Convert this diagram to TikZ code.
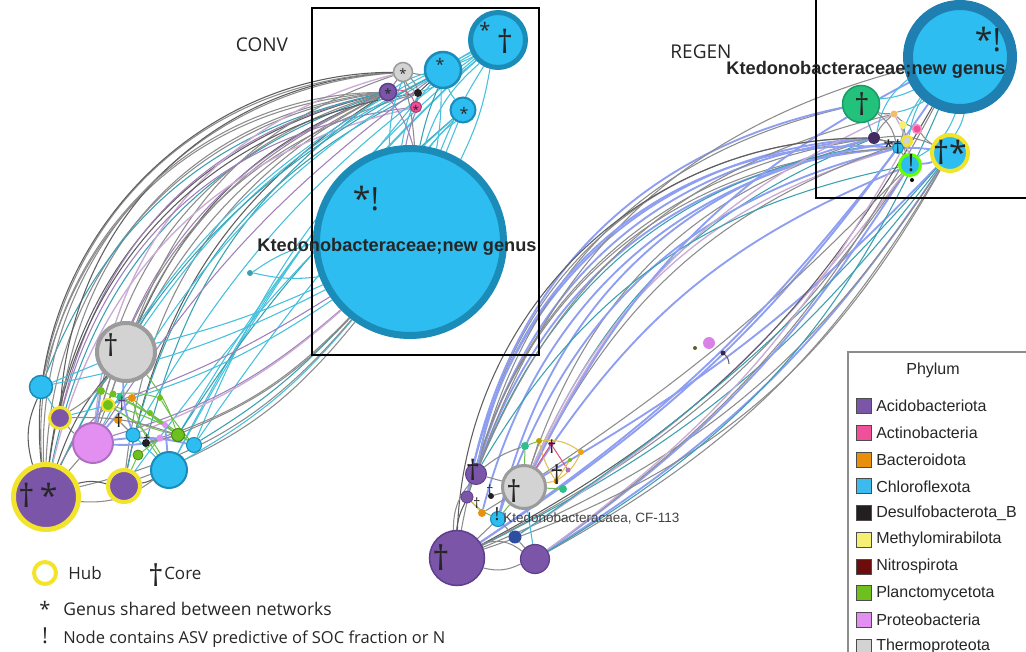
\documentclass[tikz,border=0pt]{standalone}
\usepackage{fontspec}
\setmainfont{Open Sans}
\newfontfamily\arialf{Liberation Sans}
\usetikzlibrary{backgrounds}
\newcommand\fsz[1]{\fontsize{\fpeval{#1*0.75}}{\fpeval{#1*0.9}}\selectfont}
\definecolor{acid}{HTML}{7B55A8}
\definecolor{acidD}{HTML}{5E3F8C}
\definecolor{actino}{HTML}{F04F9A}
\definecolor{bact}{HTML}{E8900C}
\definecolor{chloro}{HTML}{2DBDF0}
\definecolor{chloroL}{HTML}{3DBBEE}
\definecolor{chloroD}{HTML}{1B8CB8}
\definecolor{chloroDD}{HTML}{1E7FB0}
\definecolor{desulf}{HTML}{231F20}
\definecolor{methyl}{HTML}{F7EE74}
\definecolor{nitro}{HTML}{6C0D0C}
\definecolor{plancto}{HTML}{6DC01D}
\definecolor{proteo}{HTML}{E38FF2}
\definecolor{proteoD}{HTML}{B070C0}
\definecolor{thermo}{HTML}{D3D3D3}
\definecolor{thermoD}{HTML}{9B9B9B}
\definecolor{hubY}{HTML}{F2E42A}
\definecolor{emer}{HTML}{22C27C}
\definecolor{tealg}{HTML}{2FC08A}
\definecolor{dblue}{HTML}{2E4FA0}
\definecolor{cEg}{HTML}{8C8C8C}
\definecolor{cEdg}{HTML}{5E5E5E}
\definecolor{cEte}{HTML}{3AA0B0}
\definecolor{cEcy}{HTML}{46C0DC}
\definecolor{cEpu}{HTML}{A080B8}
\definecolor{cEla}{HTML}{C9ACD4}
\definecolor{cEpe}{HTML}{8E9EF0}
\definecolor{cEgr}{HTML}{6CC04A}
\definecolor{cEy}{HTML}{E0C050}
\definecolor{cEpk}{HTML}{E0507A}
\tikzset{
  nd/.style={circle, inner sep=0pt, minimum size=#1*0.75pt},
  bw/.style={line width=#1*0.75pt},
  hub/.style={draw=hubY, line width=#1*0.75pt},
  mk/.style={inner sep=0pt, font=\fsz{#1}, text=black!85},
  eg/.style={draw=cEg, line width=0.8pt},
  edg/.style={draw=cEdg, line width=0.8pt},
  ete/.style={draw=cEte, line width=0.8pt},
  ecy/.style={draw=cEcy, line width=0.8pt},
  epu/.style={draw=cEpu, line width=0.8pt},
  ela/.style={draw=cEla, line width=1pt},
  epe/.style={draw=cEpe, line width=1.4pt},
  egr/.style={draw=cEgr, line width=0.75pt},
  ey/.style={draw=cEy, line width=0.8pt},
  epk/.style={draw=cEpk, line width=0.75pt},
  sq/.style={inner sep=0pt, minimum size=15*0.75pt, draw=black!70, line width=0.5pt},
  boxline/.style={draw=black, line width=0.9pt},
}
\begin{document}
\begin{tikzpicture}[x=0.75pt,y=-0.75pt]
\useasboundingbox (0,0) rectangle (1026,652);

% boxes
\draw[boxline] (312,8) rectangle (539,355);
\draw[boxline] (816,-5) rectangle (1032,198);

% ---------- CONV nodes
\node[nd=187, fill=chloro, draw=chloroD, bw=7] (cbig) at (410,242) {};
\node[nd=55, fill=chloro, draw=chloroD, bw=5] (ctop) at (498,40) {};
\node[nd=36, fill=chloro, draw=chloroD, bw=2.5] (cmid) at (443,70) {};
\node[nd=25, fill=chloro, draw=chloroD, bw=2] (csm) at (463,110) {};
\node[nd=19, fill=thermo, draw=thermoD, bw=1.5] (cgray) at (403,72) {};
\node[nd=17, fill=acid, draw=acidD, bw=1.5] (cpur) at (388,92) {};
\node[nd=8, fill=desulf] (cdark) at (418,93) {};
\node[nd=11, fill=actino, draw=actino!70!black, bw=1] (cpink) at (416,107) {};
\node[nd=6, fill=cEte] (cdot) at (250,273) {};

% ---------- left cluster
\node[nd=58, fill=thermo, draw=thermoD, bw=4] (lgray) at (126,352) {};
\node[nd=23, fill=chloro, draw=chloroD, bw=1.5] (lblue1) at (41,387) {};
\node[nd=21, fill=acid, hub=3] (lpur2) at (60,418) {};
\node[nd=40, fill=proteo, draw=proteoD, bw=2] (lpink) at (93,443) {};
\node[nd=65, fill=acid, hub=5] (lbig) at (46,497) {};
\node[nd=32, fill=acid, hub=4] (lpur3) at (124,486) {};
\node[nd=36, fill=chloro, draw=chloroD, bw=2] (lblue2) at (169,470) {};
\node[nd=15, fill=chloro, draw=chloroD, bw=1] (lblue3) at (194,445) {};
\node[nd=13, fill=plancto, draw=plancto!70!black, bw=1] (lgreen1) at (178,435) {};
\node[nd=12, fill=plancto, hub=2] (lgreen2) at (108,405) {};
\node[nd=14, fill=chloro, draw=chloroD, bw=1] (lblue4) at (133,435) {};
\node[nd=8, fill=bact] (lorange) at (132,398) {};
\node[nd=8, fill=desulf] (ldark) at (146,443) {};
\node[nd=10, fill=plancto, draw=plancto!70!black, bw=0.8] (lgreen3) at (138,455) {};
\node[nd=8, fill=plancto] (ls1) at (101,391) {};
\node[nd=7, fill=plancto] (ls2) at (113,394) {};
\node[nd=7, fill=tealg] (ls3) at (120,397) {};
\node[nd=6, fill=plancto] (ls4) at (160,398) {};
\node[nd=6, fill=plancto] (ls5) at (150,413) {};
\node[nd=6, fill=proteo] (ls6) at (165,425) {};
\node[nd=8, fill=bact] (ls7) at (118,420) {};
\node[nd=7, fill=proteo] (ls8) at (160,438) {};

% ---------- REGEN nodes
\node[nd=104, fill=chloro, draw=chloroDD, bw=10] (rbig) at (960,57) {};
\node[nd=37, fill=emer, draw=emer!80!black, bw=1.5] (rgreen) at (861,104) {};
\node[nd=12, fill=acidD!70!black] (rdark) at (874,138) {};
\node[nd=7, fill=bact!60!white] (rtan) at (894,114) {};
\node[nd=9, fill=actino, draw=actino!60!white, bw=1.5] (rpink) at (917,129) {};
\node[nd=8, fill=methyl] (ryellow) at (903,125) {};
\node[nd=10, fill=thermo, hub=2.5] (rgrayy) at (907,141) {};
\node[nd=11, fill=chloro, draw=chloroD, bw=1] (rsmall) at (898,148) {};
\node[nd=21, fill=chloro, draw=green!60!yellow, bw=3] (rblueE) at (910,165) {};
\node[nd=4, fill=black] (rdot) at (912,180) {};
\node[nd=36, fill=chloro, hub=4] (rhub) at (950,153) {};

% ---------- bottom middle nodes
\node[nd=43, fill=thermo, draw=thermoD, bw=3] (mgray) at (524,487) {};
\node[nd=21, fill=acid, draw=acidD, bw=1] (mpur1) at (476,474) {};
\node[nd=12, fill=acid, draw=acidD, bw=0.8] (mpur4) at (467,497) {};
\node[nd=6, fill=desulf] (mdark) at (491,496) {};
\node[nd=8, fill=bact] (morange) at (482,513) {};
\node[nd=15, fill=chloro, draw=chloroD, bw=1] (mblue) at (498,519) {};
\node[nd=13, fill=dblue] (mdblue) at (515,537) {};
\node[nd=55, fill=acid, draw=acidD, bw=1.5] (mbig) at (457,558) {};
\node[nd=29, fill=acid, draw=acidD, bw=1.2] (mpur2) at (535,559) {};
\node[nd=8, fill=tealg] (mgreen1) at (525,446) {};
\node[nd=8, fill=tealg] (mgreen2) at (563,489) {};
\node[nd=6, fill=olive!70!yellow] (ms1) at (539,441) {};
\node[nd=5, fill=actino!70!black] (ms2) at (551,444) {};
\node[nd=6, fill=bact!80!yellow] (ms3) at (581,452) {};
\node[nd=4, fill=plancto] (ms4) at (570,460) {};
\node[nd=5, fill=proteo!80!black] (ms5) at (568,470) {};
\node[nd=5, fill=bact] (ms6) at (556,481) {};

% isolated
\node[nd=12, fill=proteo!90!violet] (iso1) at (709,343) {};
\node[nd=4, fill=olive!60!black] (iso2) at (695,348) {};
\node[nd=5, fill=acidD!60!black] (iso3) at (723,353) {};
\coordinate (iso4) at (729,364);

% ---------- edges
\begin{scope}[on background layer]
% CONV long lens
\foreach \a/\b/\c/\w in {
 cpur/lbig/eg/40, cpur/lbig/edg/35, cpur/lbig/ete/30, cpur/lpur2/eg/38, cpur/lpur2/epu/32,
 cpur/lblue1/eg/36, cpur/lblue1/ete/28, cpur/lgray/edg/22, cpur/lgray/eg/17, cpur/lpink/eg/33,
 cpur/lpink/epu/27, cpur/lpur3/eg/28, cpur/lpur3/edg/23, cpur/ldark/ete/20, cpur/lgreen2/eg/25,
 cgray/lbig/eg/44, cgray/lpur2/edg/42, cgray/lgray/eg/25, cgray/lpink/ela/35, cgray/lblue1/eg/38,
 cdark/lbig/edg/37, cdark/lpink/eg/30, cdark/lpur3/ete/26, cpink/lpur2/epu/34, cpink/lbig/ela/32,
 cpur/lbig/eg/47, cgray/lbig/edg/48}
 {\draw[\c] (\a) to[bend right=\w] (\b);}
% CONV top nodes to left cluster (behind big node)
\foreach \a/\b/\c/\w in {
 ctop/lblue2/ecy/10, ctop/lblue3/ecy/14, ctop/lgreen1/ecy/8, ctop/lblue4/ecy/12, cmid/lblue2/ecy/6,
 cmid/lgray/ecy/14, csm/lblue3/ecy/4, csm/lgreen1/ete/8, ctop/lpink/ecy/16, cmid/lpink/epu/10,
 csm/lpur3/ecy/6, ctop/lbig/ecy/20, cmid/lbig/ete/18}
 {\draw[\c] (\a) to[bend right=\w] (\b);}
% CONV local
\foreach \a/\b/\c/\w in {
 cpur/cbig/epu/-10, cgray/cbig/eg/-5, cpink/cbig/epu/5, cdark/cbig/ecy/8, cgray/cbig/ecy/10,
 cgray/cmid/eg/10, cpur/cmid/ecy/-10, cmid/ctop/ecy/5, cmid/ctop/ecy/-5, cmid/csm/ecy/10,
 ctop/cbig/ecy/-8, ctop/cbig/ecy/5, ctop/cbig/ecy/15, csm/cbig/ecy/0, csm/cbig/ecy/10,
 cmid/cbig/ecy/-5, cmid/cbig/ete/5, cpur/cpink/epk/-40, cgray/cdark/eg/20, cgray/cpink/eg/-30,
 cpur/cgray/eg/0, cdark/cmid/edg/0, cdark/ctop/ecy/10, cdot/cbig/ecy/-10, cdot/cbig/ecy/10}
 {\draw[\c] (\a) to[bend right=\w] (\b);}
% left cluster to big CONV node
\foreach \a/\b/\c/\w in {
 lpur3/cbig/eg/15, lblue2/cbig/ecy/10, lgreen1/cbig/eg/12, lblue3/cbig/ete/8, lgray/cbig/ecy/5,
 lblue1/cbig/ecy/8, lpink/cbig/epu/12, lbig/cbig/eg/18, lgreen2/cbig/epu/6, lblue4/cbig/ela/10,
 ldark/cbig/eg/14, lpur2/cbig/ecy/10}
 {\draw[\c] (\a) to[bend right=\w] (\b);}
% left cluster internal
\foreach \a/\b/\c/\w in {
 lgreen2/lgreen1/egr/10, lgreen2/lblue3/egr/-10, lblue4/lgreen1/egr/15, lorange/lblue2/egr/10,
 lpink/lgreen1/epe/10, lbig/lpur3/edg/-15, lbig/lpink/eg/0, lpur2/lpink/eg/10, lbig/lgray/edg/-10,
 lpur2/lgray/eg/10, lblue1/lgray/ecy/0, lblue1/lpur2/ecy/0, lgray/lpink/eg/0, lgray/lblue4/epe/10,
 lgreen2/lblue2/egr/-15, lorange/lgreen1/egr/5, lblue4/lblue2/ecy/0, lpink/lblue3/epe/-10,
 lbig/lblue2/eg/20, lpur3/lblue2/edg/10, lpink/lorange/epe/0, lpur2/lgreen1/eg/-10,
 lbig/lgreen2/eg/-10, lblue1/lbig/edg/20, lgray/lgreen1/egr/-10, ls1/lgreen1/egr/-8,
 ls2/ls4/egr/-10, ls3/lblue3/egr/-5, ls4/lblue3/egr/5, ls5/lgreen1/egr/0, ls6/lblue2/epe/0,
 ls7/lblue4/eg/0, ls8/lgreen3/egr/0, ls1/lpink/epe/0, lgreen3/lpur3/egr/0, ldark/lgreen1/eg/0}
 {\draw[\c] (\a) to[bend right=\w] (\b);}
% REGEN lens, left family
\foreach \a/\b/\c/\w in {
 rdark/mpur1/eg/40, rdark/mpur1/epe/34, rdark/mpur4/epe/38, rdark/mgray/eg/27, rdark/mgray/ete/22,
 rdark/mblue/epe/31, rdark/mbig/eg/36, rsmall/mpur1/epe/33, rsmall/mpur4/eg/36, rsmall/mgray/ela/25,
 rsmall/mblue/epe/29, rgrayy/mpur1/ete/31, rgrayy/mgray/eg/22, rgrayy/morange/epe/34, rgreen/mpur1/eg/31,
 rgreen/mpur4/epe/34, rtan/mpur1/eg/27, rtan/mgray/ela/20, rblueE/mgray/epe/17, rblueE/mpur1/ete/24,
 rbig/mpur1/eg/28, rbig/mgray/epe/18, rdark/mbig/edg/44, rsmall/mpur1/epe/42}
 {\draw[\c] (\a) to[bend right=\w] (\b);}
% REGEN lens, right family
\foreach \a/\b/\c/\w in {
 rhub/mpur2/eg/-15, rhub/mpur2/epe/-12, rhub/mbig/eg/-17, rhub/mbig/ete/-13, rblueE/mpur2/epe/-11,
 rblueE/mbig/eg/-14, rblueE/mdblue/ela/-10, rhub/mgray/epe/-8, rbig/mpur2/eg/-13, rbig/mbig/edg/-16,
 rbig/mbig/epe/-11, rhub/mdblue/ete/-7, rblueE/mgray/eg/-6, rsmall/mbig/epe/-9, rgrayy/mpur2/ela/-12,
 rhub/mbig/eg/-21, rbig/mpur2/ete/-18}
 {\draw[\c] (\a) to[bend right=\w] (\b);}
% REGEN local
\foreach \a/\b/\c/\w in {
 rgreen/rdark/ete/0, rgreen/rtan/eg/10, rdark/rtan/eg/-10, rtan/rpink/eg/10, rdark/rgrayy/edg/10,
 rsmall/rhub/epe/-5, rblueE/rhub/epe/10, rtan/rbig/ecy/10, rgrayy/rbig/ecy/-10, rdark/rhub/eg/-15,
 rpink/rhub/eg/10, rgreen/rbig/ecy/10, rdark/rbig/ecy/-20, rsmall/rbig/ecy/-10, rblueE/rbig/ecy/20,
 rhub/rbig/ecy/10, ryellow/rblueE/eg/10, rdark/rblueE/eg/-20, rgreen/rsmall/eg/-20, rtan/rblueE/ela/-10,
 ryellow/rgrayy/eg/0}
 {\draw[\c] (\a) to[bend right=\w] (\b);}
% bottom middle local
\foreach \a/\b/\c/\w in {
 mpur1/mgray/eg/0, mpur1/mbig/eg/20, mpur4/mbig/edg/10, mblue/mgray/egr/0, mdblue/mpur2/eg/0,
 mbig/mpur2/eg/-30, mbig/mpur2/eg/20, mgray/mgreen1/egr/0, mgray/mgreen2/egr/0, mpur1/mgreen1/eg/-10,
 mpur4/mblue/egr/10, morange/mgray/eg/0, mpur1/mpur4/eg/0, mblue/mdblue/eg/0, mbig/mblue/eg/0,
 mgray/mpur2/ecy/0, mdark/mgray/eg/0, mpur4/morange/ey/0,
 ms1/ms3/ey/-20, ms1/ms6/ey/10, ms2/ms5/epk/0, ms3/ms6/ey/-15, ms4/ms6/ey/0, mgreen1/ms1/egr/0,
 ms2/mgray/epk/0, ms6/mgray/ey/0, ms1/mgray/eg/0}
 {\draw[\c] (\a) to[bend right=\w] (\b);}
\draw[edg] (iso3) to[bend left=20] (iso4);
\end{scope}

% ---------- markers in nodes
\node[mk=20] (k1) at (485,30) {*};
\node[mk=32] (k2) at (505,41) {†};
\node[mk=16] (k3) at (440,64) {*};
\node[mk=16] (k4) at (464,113) {*};
\node[mk=13] (k5) at (403,74) {*};
\node[mk=13] (k6) at (388,94) {*};
\node[mk=12] (k7) at (416,110) {*};
\node[mk=32] (k8) at (366,199) {*!};
\node[mk=30] (k9) at (111,345) {†};
\node[mk=32] (k10) at (38,495) {†\,*};
\node[mk=18, text=acidD] (k11) at (122,404) {†};
\node[mk=18] (k12) at (119,421) {†};
\node[mk=14] (k13) at (147,440) {†};
\node[mk=32] (k14) at (988,40) {*!};
\node[mk=30] (k15) at (862,104) {†};
\node[mk=18] (k16) at (893,147) {*†};
\node[mk=24] (k17) at (911,163) {!};
\node[mk=32] (k18) at (950,152) {†*};
\node[mk=30] (k19) at (514,491) {†};
\node[mk=28] (k20) at (473,470) {†};
\node[mk=14] (k21) at (490,490) {†};
\node[mk=14] (k22) at (477,503) {†};
\node[mk=18] (k23) at (497,514) {!};
\node[mk=34] (k24) at (441,558) {†};
\node[mk=18] (k25) at (552,447) {†};
\node[mk=26] (k26) at (557,475) {†};

% ---------- labels
\node[inner sep=0pt, font=\fsz{19}, text=black!85] (conv) at (262,45) {CONV};
\node[inner sep=0pt, font=\fsz{19}, text=black!85] (regen) at (701,52) {REGEN};
\node[inner sep=0pt, font=\arialf\bfseries\fsz{18.2}, text=black!85] (kt1) at (397,247) {Ktedonobacteraceae;new genus};
\node[inner sep=0pt, font=\arialf\bfseries\fsz{18.2}, text=black!85] (kt2) at (866,70) {Ktedonobacteraceae;new genus};
\node[inner sep=0pt, anchor=west, font=\arialf\fsz{13.5}, text=black!75] (kt3) at (503,518) {Ktedonobacteracaea, CF-113};

% ---------- left legend
\node[nd=22, fill=white, hub=4] (lghub) at (45,573) {};
\node[inner sep=0pt, anchor=west, font=\fsz{17}, text=black!85] (lgh) at (68,573) {Hub};
\node[mk=30] (lgc) at (156,575) {†};
\node[inner sep=0pt, anchor=west, font=\fsz{17}, text=black!85] (lgct) at (164,573) {Core};
\node[mk=20] (lga) at (45,609) {*};
\node[inner sep=0pt, anchor=west, font=\fsz{17.5}, text=black!85] (lgat) at (63,609) {Genus shared between networks};
\node[mk=22] (lgb) at (45,636) {!};
\node[inner sep=0pt, anchor=west, font=\fsz{16.5}, text=black!85] (lgbt) at (63,639) {Node contains ASV predictive of SOC fraction or N};

% ---------- right legend
\draw[draw=black!45, line width=1.1pt, fill=white] (848,352) rectangle (1032,662);
\node[inner sep=0pt, font=\arialf\fsz{16}, text=black!85] (phy) at (933,370) {Phylum};
\foreach \n/\c [count=\i] in {Acidobacteriota/acid, Actinobacteria/actino, Bacteroidota/bact,
  Chloroflexota/chloroL, Desulfobacterota\_B/desulf, Methylomirabilota/methyl, Nitrospirota/nitro,
  Planctomycetota/plancto, Proteobacteria/proteo, Thermoproteota/thermo}
{
  \node[sq, fill=\c] (sq\i) at (864,379.5+26.7*\i) {};
  \node[inner sep=0pt, anchor=west, font=\arialf\fsz{16}, text=black!85] (lt\i) at (876,379.5+26.7*\i) {\n};
}
\end{tikzpicture}
\end{document}
